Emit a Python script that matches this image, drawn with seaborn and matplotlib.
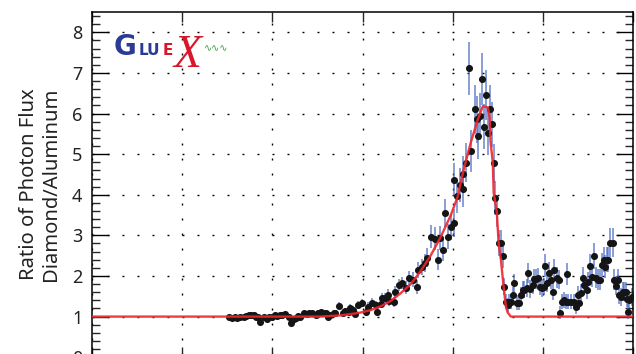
import matplotlib
matplotlib.use("Agg")
import matplotlib.pyplot as plt
from matplotlib.ticker import MultipleLocator
import seaborn as sns
import pandas as pd

# Photon energy (GeV), flux ratio and its uncertainty
energy = [
    3.04, 3.11, 3.18, 3.22, 3.29, 3.38, 3.42, 3.49, 3.53, 3.60,
    3.64, 3.69, 3.73, 3.82, 3.89, 3.93, 4.00, 4.07, 4.11, 4.16,
    4.22, 4.29, 4.36, 4.42, 4.49, 4.53, 4.58, 4.62, 4.71, 4.76,
    4.82, 4.87, 4.96, 5.02, 5.07, 5.13, 5.18, 5.24, 5.29, 5.36,
    5.40, 5.47, 5.56, 5.62, 5.69, 5.73, 5.80, 5.84, 5.89, 5.98,
    6.07, 6.13, 6.22, 6.29, 6.33, 6.40, 6.44, 6.51, 6.56, 6.58,
    6.69, 6.73, 6.80, 6.87, 6.96, 7.04, 7.11, 7.20, 7.24, 7.33,
    7.38, 7.44, 7.53, 7.60, 7.67, 7.71, 7.78, 7.84, 7.89, 7.96,
    8.02, 8.04, 8.09, 8.16, 8.22, 8.24, 8.29, 8.36, 8.40, 8.49,
    8.53, 8.56, 8.60, 8.64, 8.69, 8.73, 8.78, 8.82, 8.87, 8.91,
    8.93, 8.98, 9.02, 9.07, 9.11, 9.13, 9.18, 9.22, 9.24, 9.29,
    9.33, 9.36, 9.42, 9.47, 9.51, 9.56, 9.58, 9.64, 9.67, 9.71,
    9.78, 9.80, 9.84, 9.89, 9.93, 9.98, 10.02, 10.04, 10.09, 10.13,
    10.18, 10.22, 10.24, 10.31, 10.36, 10.38, 10.42, 10.47, 10.51, 10.53,
    10.56, 10.62, 10.69, 10.73, 10.78, 10.80, 10.84, 10.89, 10.91, 10.98,
    11.00, 11.04, 11.09, 11.13, 11.18, 11.22, 11.27, 11.31, 11.36, 11.38,
    11.42, 11.44, 11.49, 11.56, 11.58, 11.62, 11.67, 11.69, 11.73, 11.78,
    11.80, 11.84, 11.87, 11.89, 11.91, 11.98,
]
ratio = [
    0.98, 0.96, 1.00, 0.97, 1.00, 0.98, 1.02, 1.04, 1.05, 1.03,
    0.98, 1.00, 0.86, 0.98, 0.94, 0.98, 1.00, 1.04, 1.02, 1.04,
    1.04, 1.07, 1.00, 0.85, 0.93, 0.96, 1.02, 0.98, 1.08, 1.07,
    1.08, 1.08, 1.04, 1.10, 1.12, 1.08, 1.10, 1.00, 1.04, 1.08,
    1.08, 1.27, 1.10, 1.14, 1.12, 1.21, 1.16, 1.07, 1.29, 1.34,
    1.12, 1.24, 1.34, 1.28, 1.12, 1.32, 1.46, 1.45, 1.54, 1.39,
    1.36, 1.61, 1.78, 1.83, 1.71, 1.96, 1.91, 1.73, 2.15, 2.23,
    2.32, 2.45, 2.97, 2.92, 2.40, 2.94, 2.65, 3.55, 2.97, 3.21,
    3.30, 4.37, 3.96, 4.25, 4.13, 4.50, 4.79, 7.11, 5.07, 6.10,
    5.86, 5.44, 5.93, 6.85, 5.68, 6.45, 5.53, 6.10, 5.73, 4.77,
    3.93, 3.59, 2.82, 2.82, 2.50, 1.74, 1.37, 1.29, 1.37, 1.37,
    1.54, 1.83, 1.34, 1.34, 1.54, 1.66, 1.66, 1.71, 2.08, 1.68,
    1.78, 1.93, 1.93, 1.96, 1.74, 1.71, 1.74, 2.25, 1.83, 2.08,
    1.91, 1.61, 2.15, 1.96, 1.91, 1.09, 1.37, 1.41, 1.37, 2.05,
    1.37, 1.37, 1.37, 1.24, 1.54, 1.34, 1.58, 1.96, 1.78, 1.66,
    1.86, 2.25, 1.98, 2.50, 1.96, 1.91, 1.91, 2.27, 2.40, 2.23,
    2.40, 2.40, 2.82, 2.82, 1.91, 1.76, 1.91, 1.54, 1.49, 1.61,
    1.61, 1.61, 1.44, 1.12, 1.41, 1.49,
]
ratio_err = [
    0.04, 0.04, 0.04, 0.04, 0.04, 0.04, 0.04, 0.04, 0.04, 0.04,
    0.04, 0.04, 0.04, 0.04, 0.04, 0.04, 0.04, 0.04, 0.04, 0.04,
    0.05, 0.05, 0.05, 0.05, 0.05, 0.05, 0.05, 0.05, 0.05, 0.05,
    0.06, 0.06, 0.06, 0.06, 0.06, 0.06, 0.06, 0.06, 0.06, 0.06,
    0.07, 0.08, 0.08, 0.08, 0.08, 0.09, 0.09, 0.09, 0.10, 0.10,
    0.10, 0.11, 0.11, 0.11, 0.11, 0.12, 0.12, 0.12, 0.13, 0.13,
    0.13, 0.14, 0.15, 0.15, 0.16, 0.17, 0.18, 0.18, 0.20, 0.20,
    0.22, 0.24, 0.28, 0.28, 0.26, 0.30, 0.28, 0.34, 0.30, 0.32,
    0.34, 0.42, 0.40, 0.42, 0.42, 0.45, 0.48, 0.65, 0.52, 0.60,
    0.58, 0.55, 0.58, 0.65, 0.56, 0.62, 0.55, 0.60, 0.56, 0.48,
    0.42, 0.38, 0.32, 0.32, 0.30, 0.22, 0.18, 0.17, 0.18, 0.18,
    0.20, 0.23, 0.18, 0.18, 0.20, 0.21, 0.21, 0.22, 0.25, 0.21,
    0.22, 0.24, 0.24, 0.24, 0.22, 0.22, 0.22, 0.28, 0.23, 0.26,
    0.24, 0.21, 0.27, 0.25, 0.24, 0.16, 0.19, 0.19, 0.19, 0.26,
    0.19, 0.19, 0.19, 0.18, 0.21, 0.19, 0.22, 0.26, 0.24, 0.22,
    0.25, 0.29, 0.26, 0.32, 0.26, 0.25, 0.25, 0.30, 0.31, 0.29,
    0.31, 0.31, 0.36, 0.36, 0.26, 0.24, 0.26, 0.22, 0.22, 0.23,
    0.23, 0.23, 0.21, 0.18, 0.21, 0.22,
]

# Coherent bremsstrahlung model curve
fit_energy = [0.0, 5.0, 5.07, 5.51, 5.73, 5.96, 6.18, 6.40, 6.62, 6.84,
              7.07, 7.29, 7.51, 7.73, 7.96, 8.11, 8.24, 8.40, 8.56, 8.67,
              8.78, 8.82, 8.84, 8.89, 8.91, 8.98, 9.02, 9.07, 9.13, 9.18,
              9.22, 9.29, 12.0]
fit_ratio = [1.0, 1.0, 1.0, 1.03, 1.06, 1.10, 1.16, 1.25, 1.38, 1.57,
             1.80, 2.12, 2.50, 2.95, 3.50, 3.95, 4.60, 5.28, 5.86, 6.18,
             6.15, 5.90, 5.30, 4.80, 4.05, 3.56, 2.80, 2.40, 1.74, 1.25,
             1.10, 1.00, 1.00]

x_ticks = [0, 2, 4, 6, 8, 10, 12]
y_ticks = [0, 1, 2, 3, 4, 5, 6, 7, 8]

sns.set_style("white")
plt.rcParams["font.family"] = ["Noto Sans", "DejaVu Sans"]

data = pd.DataFrame({"energy": energy, "ratio": ratio, "err": ratio_err})
fit = pd.DataFrame({"energy": fit_energy, "ratio": fit_ratio})

fig = plt.figure(figsize=(6.36, 3.54), dpi=100)
W, H = 636, 354
ax = fig.add_axes([92 / W, 1 - 357.2 / H, (633 - 92) / W, (357.2 - 12) / H])

ax.errorbar(data["energy"], data["ratio"], yerr=data["err"], fmt="none",
            ecolor="#4a66c0", elinewidth=1.2, alpha=0.75, zorder=2)
sns.scatterplot(data=data, x="energy", y="ratio", ax=ax, color="#151515",
                s=26, linewidth=0, zorder=3, legend=False)
sns.lineplot(data=fit, x="energy", y="ratio", ax=ax, sort=False,
             estimator=None, color="#f0262b", linewidth=1.7, alpha=0.9,
             zorder=4)

ax.set_xlim(0, 12)
ax.set_ylim(0, 8.5)
ax.set_xticks(x_ticks)
ax.set_yticks(y_ticks)
ax.yaxis.set_minor_locator(MultipleLocator(0.2))
ax.set_xticklabels([])
ax.set_xlabel("")
ax.set_ylabel("")

ax.grid(True, which="major", color="black", linewidth=1.0,
        linestyle=(0, (1.4, 9.4)))
ax.set_axisbelow(True)

for side in ["left", "right", "top", "bottom"]:
    ax.spines[side].set_visible(True)
    ax.spines[side].set_color("black")
    ax.spines[side].set_linewidth(1.1)

ax.tick_params(axis="y", which="major", direction="in", length=12, width=1.0,
               left=True, right=True, labelsize=13, pad=7, colors="black")
ax.tick_params(axis="y", which="minor", direction="in", length=6, width=1.0,
               left=True, right=True)
ax.tick_params(axis="x", which="major", direction="in", length=7, width=1.0,
               top=True, bottom=True)
for lab in ax.get_yticklabels():
    lab.set_color("#222222")

fig.text(40 / W, 1 - 184.6 / H, "Ratio of Photon Flux\nDiamond/Aluminum",
         rotation=90, ha="center", va="center", multialignment="center",
         fontsize=14.5, linespacing=1.15, color="#222222")

# GlueX logo
blue = "#2b3a94"
red = "#d7182a"
fig.text(114 / W, 1 - 55 / H, "G", fontsize=20, fontweight="bold",
         color=blue, family="DejaVu Sans")
fig.text(139 / W, 1 - 55 / H, "LU", fontsize=11, fontweight="bold",
         color=blue, family="DejaVu Sans")
fig.text(162.5 / W, 1 - 55 / H, "E", fontsize=11, fontweight="bold",
         color=red, family="DejaVu Sans")
fig.text(174 / W, 1 - 67 / H, "X", fontsize=33, style="italic",
         color=red, family="Liberation Serif")
fig.text(204 / W, 1 - 51 / H, "\u223f\u223f\u223f", fontsize=7,
         color="#3c9a3c", family="DejaVu Sans")

fig.savefig("out.png", dpi=100)
